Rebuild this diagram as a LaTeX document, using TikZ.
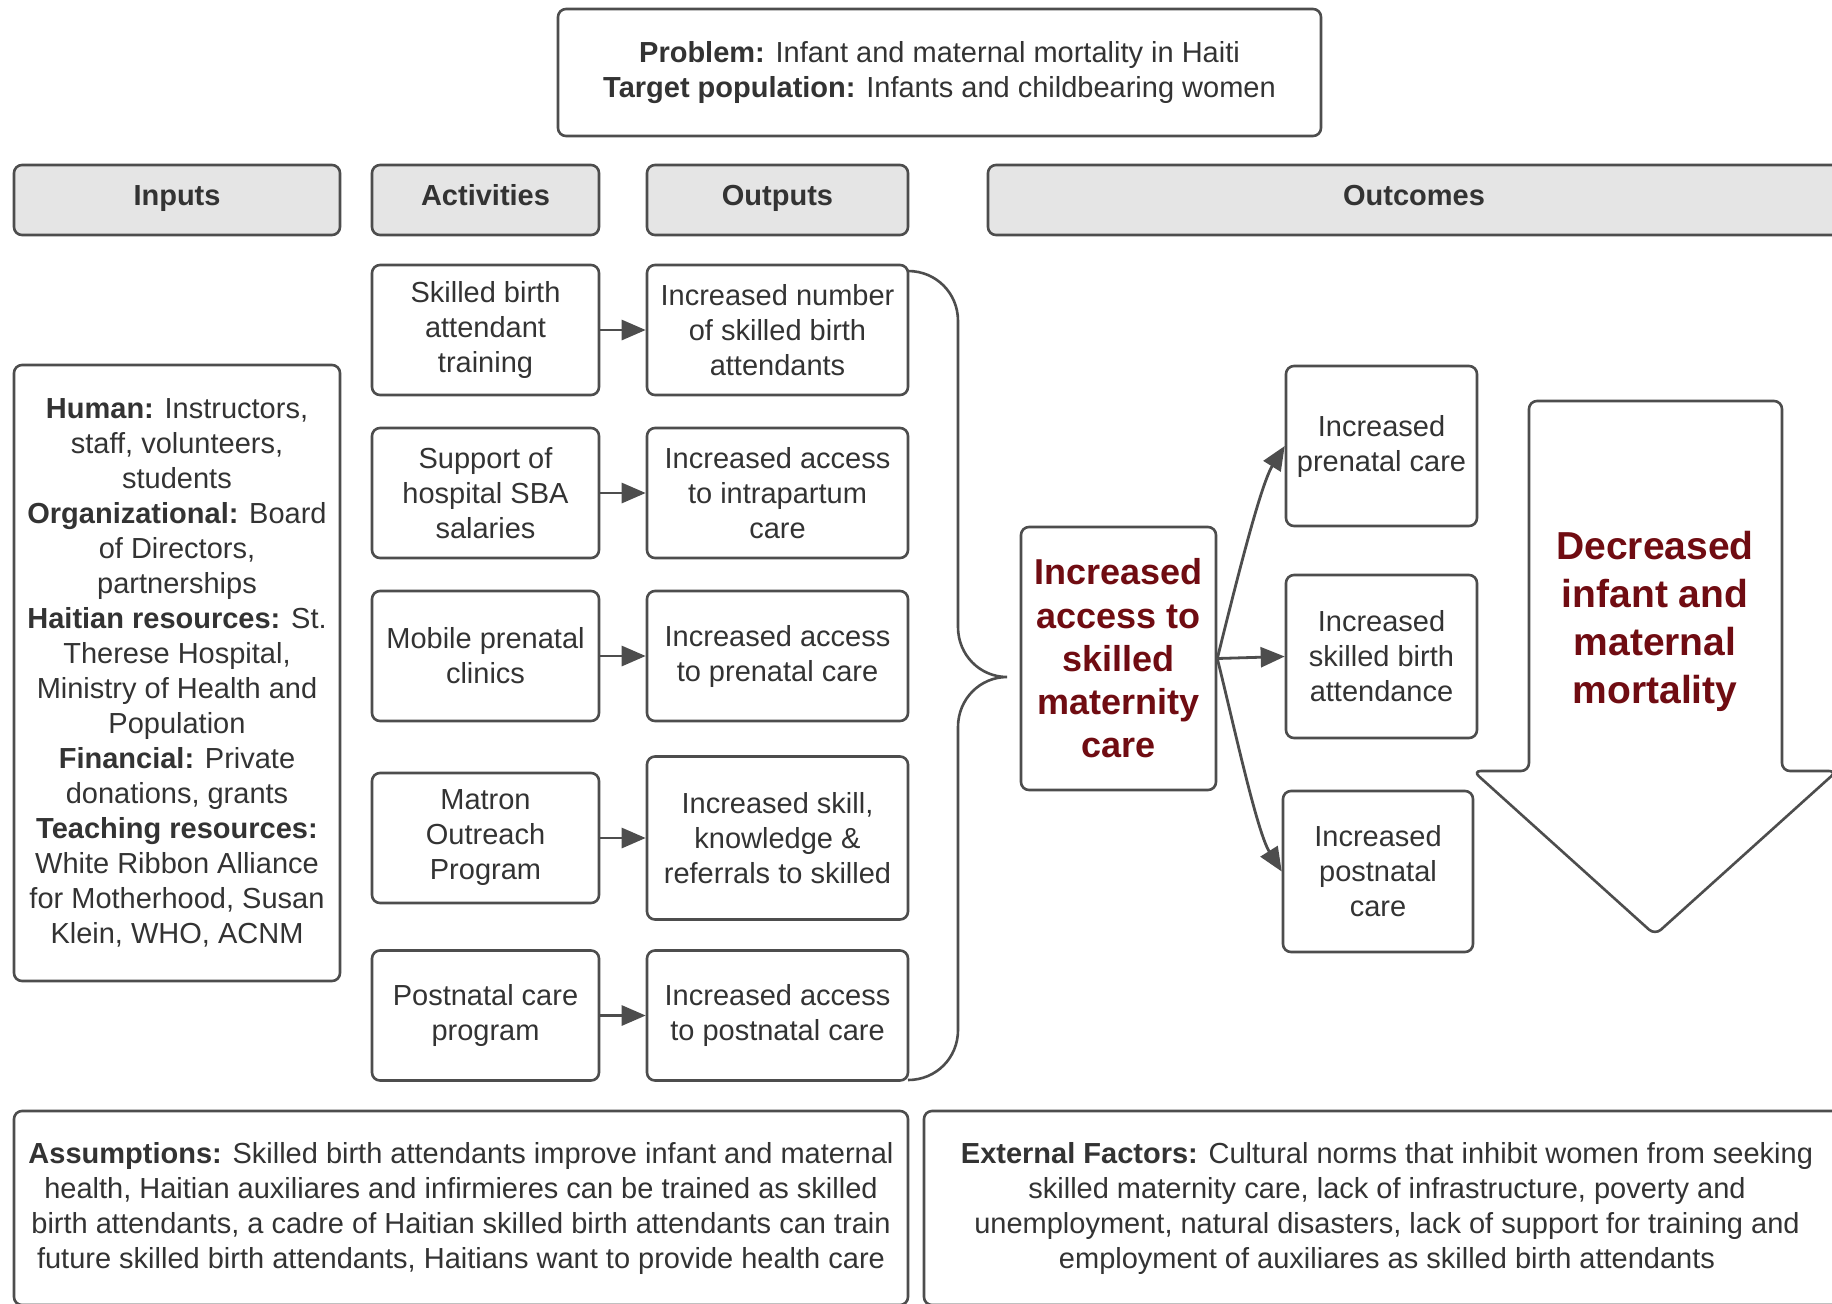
\documentclass[tikz,border=0pt]{standalone}
\usepackage{fontspec}
\setmainfont{Liberation Sans}
\usetikzlibrary{arrows.meta}

\definecolor{linegrey}{RGB}{77,77,77}
\definecolor{textgrey}{RGB}{51,51,51}
\definecolor{headgrey}{RGB}{229,229,229}
\definecolor{darkred}{RGB}{112,12,18}

\newcommand{\txtsize}{\fontsize{14.5}{17.5}\selectfont}

\begin{document}
\begin{tikzpicture}[x=0.5pt,y=-0.5pt,
  box/.style={draw=linegrey, line width=1.3pt, rounded corners=4pt, align=center,
    text=textgrey, font=\txtsize, inner sep=1pt},
  header/.style={box, fill=headgrey, font=\txtsize\bfseries, text height=11pt, text depth=6pt},
  link/.style={draw=linegrey, line width=1.4pt, -{Triangle[length=12pt,width=10pt]}}]

\useasboundingbox (0,0) rectangle (1832,1303);
\fill[white] (0,0) rectangle (1832,1303);
\clip (0,0) rectangle (1832,1303);

% Problem statement
\node[box, minimum width=381.5pt, minimum height=63.5pt] (problem) at (939.5,72.5)
  {\textbf{Problem:} Infant and maternal mortality in Haiti\\
   \textbf{Target population:} Infants and childbearing women};

% Column headers
\foreach \name/\x/\w/\lab in {inputs/177/163/Inputs, activities/485.5/113.5/Activities,
    outputs/777.5/130.5/Outputs, outcomes/1414/426/Outcomes} {
  \node[header, minimum width=\w pt, minimum height=35pt] (h-\name) at (\x,200) {\lab};
}

% Inputs
\node[box, minimum width=163pt, minimum height=308pt] (inputs) at (177,673)
  {\textbf{Human:} Instructors,\\ staff, volunteers,\\ students\\
   \textbf{Organizational:} Board\\ of Directors,\\ partnerships\\
   \textbf{Haitian resources:} St.\\ Therese Hospital,\\ Ministry of Health and\\ Population\\
   \textbf{Financial:} Private\\ donations, grants\\
   \textbf{Teaching resources:}\\ White Ribbon Alliance\\ for Motherhood, Susan\\ Klein, WHO, ACNM};

% Activities and outputs, one row each
\foreach \i/\y/\h/\act/\out in {
  1/330/65/{Skilled birth\\ attendant\\ training}/{Increased number\\ of skilled birth\\ attendants},
  2/493/65/{Support of\\ hospital SBA\\ salaries}/{Increased access\\ to intrapartum\\ care},
  3/656/65/{Mobile prenatal\\ clinics}/{Increased access\\ to prenatal care},
  4/838/81.5/{Matron\\ Outreach\\ Program}/{Increased skill,\\ knowledge \&\\ referrals to skilled},
  5/1015.5/65/{Postnatal care\\ program}/{Increased access\\ to postnatal care}} {
  \node[box, minimum width=113.5pt, minimum height=65pt] (act\i) at (485.5,\y) {\act};
  \node[box, minimum width=130.5pt, minimum height=\h pt] (out\i) at (777.5,\y) {\out};
  \draw[link] (act\i) -- (out\i);
}

% Brace gathering the outputs
\draw[draw=linegrey, line width=1.3pt] (908,271) .. controls (936,271) and (958,293) .. (958,321)
  -- (958,627) .. controls (958,655) and (980,677) .. (1007,677)
  .. controls (980,677) and (958,699) .. (958,727)
  -- (958,1030) .. controls (958,1058) and (936,1080) .. (908,1080);

% Outcomes
\node[box, minimum width=97.5pt, minimum height=131.5pt, text=darkred,
  font=\fontsize{18}{21.6}\selectfont\bfseries] (access) at (1118.5,658.5)
  {Increased\\ access to\\ skilled\\ maternity\\ care};

\node[box, minimum width=95.5pt, minimum height=80pt] (pre) at (1381.5,446) {Increased\\ prenatal care};
\node[box, minimum width=95.5pt, minimum height=81.5pt] (sba) at (1381.5,656.5) {Increased\\ skilled birth\\ attendance};
\node[box, minimum width=95pt, minimum height=80.5pt] (post) at (1378,871.5) {Increased\\ postnatal\\ care};

\draw[link] (access.east) .. controls +(15,-60) and +(-25,40) .. (pre.west);
\draw[link] (access.east) -- (sba.west);
\draw[link] (access.east) .. controls +(15,60) and +(-25,-40) .. (post.west);

% The big arrow and the goal
\draw[draw=linegrey, line width=1.3pt, rounded corners=4pt] (1529,401) -- (1782,401) -- (1782,771)
  -- (1837,771) -- (1655,935) -- (1473,771) -- (1529,771) -- cycle;
\node[text=darkred, font=\fontsize{19.5}{24}\selectfont\bfseries, align=center] (goal) at (1655,621)
  {Decreased\\ infant and\\ maternal\\ mortality};

% Assumptions and external factors
\node[box, minimum width=447pt, minimum height=97pt] (assume) at (461,1208)
  {\textbf{Assumptions:} Skilled birth attendants improve infant and maternal\\
   health, Haitian auxiliares and infirmieres can be trained as skilled\\
   birth attendants, a cadre of Haitian skilled birth attendants can train\\
   future skilled birth attendants, Haitians want to provide health care};
\node[box, minimum width=463pt, minimum height=97pt] (external) at (1387,1208)
  {\textbf{External Factors:} Cultural norms that inhibit women from seeking\\
   skilled maternity care, lack of infrastructure, poverty and\\
   unemployment, natural disasters, lack of support for training and\\
   employment of auxiliares as skilled birth attendants};

\end{tikzpicture}
\end{document}
